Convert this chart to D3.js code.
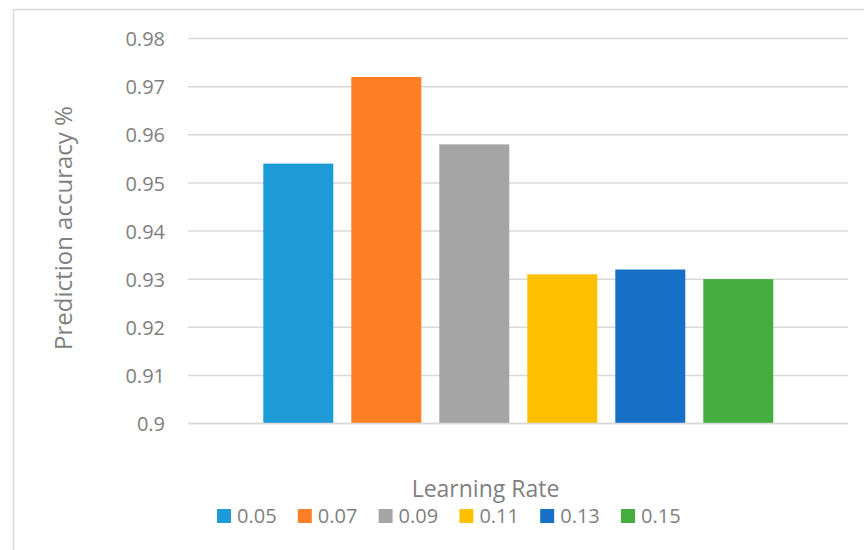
<!DOCTYPE html>
<html>
<head>
<meta charset="utf-8">
<script src="https://cdn.jsdelivr.net/npm/d3@7"></script>
<style>
  html, body { margin: 0; padding: 0; background: #fff; }
  svg { display: block; }
  text { font-family: "Open Sans", "Noto Sans", sans-serif; fill: #7f7f7f; }
</style>
</head>
<body>
<svg id="chart" width="864" height="550"></svg>
<script>
const seriesNames = ["0.05", "0.07", "0.09", "0.11", "0.13", "0.15"];
const seriesValues = [0.954, 0.972, 0.958, 0.931, 0.932, 0.930];
const seriesColors = ["#1e9bd7", "#ff7f27", "#a5a5a5", "#ffc000", "#1770c6", "#43ad3d"];
const yTicks = [0.9, 0.91, 0.92, 0.93, 0.94, 0.95, 0.96, 0.97, 0.98];
const yTitle = "Prediction accuracy %";
const xTitle = "Learning Rate";

const svg = d3.select("#chart");

// outer chart border (only top and left visible in frame)
svg.append("rect")
  .attr("x", 13.5).attr("y", 9.5)
  .attr("width", 900).attr("height", 600)
  .attr("fill", "none").attr("stroke", "#d9d9d9").attr("stroke-width", 1.5);

const plot = { left: 188, right: 848, top: 38.5, bottom: 423.5 };

const y = d3.scaleLinear().domain([0.9, 0.98]).range([plot.bottom, plot.top]);
const x = d3.scaleBand().domain(seriesNames).range([254.3, 782.3]).paddingInner(0.2045).paddingOuter(0.1023);

// gridlines
svg.append("g")
  .selectAll("line")
  .data(yTicks)
  .join("line")
  .attr("x1", plot.left).attr("x2", plot.right)
  .attr("y1", d => y(d)).attr("y2", d => y(d))
  .attr("stroke", "#d9d9d9").attr("stroke-width", 1.5);

// y axis labels
const yAxis = d3.axisLeft(y).tickValues(yTicks).tickSize(0).tickPadding(0)
  .tickFormat(d => d3.format("")(+d.toFixed(2)));
const gy = svg.append("g").attr("transform", "translate(165,0)").call(yAxis);
gy.select(".domain").remove();
gy.selectAll("text")
  .attr("font-family", '"Open Sans", sans-serif')
  .attr("font-size", 20)
  .attr("fill", "#7f7f7f")
  .attr("dy", "0.36em");

// bars
svg.append("g")
  .selectAll("rect")
  .data(seriesNames.map((n, i) => ({ name: n, value: seriesValues[i], color: seriesColors[i] })))
  .join("rect")
  .attr("x", d => x(d.name))
  .attr("width", x.bandwidth())
  .attr("y", d => y(d.value))
  .attr("height", d => y(0.9) - y(d.value))
  .attr("fill", d => d.color);

// baseline
svg.append("line")
  .attr("x1", plot.left).attr("x2", plot.right)
  .attr("y1", y(0.9)).attr("y2", y(0.9))
  .attr("stroke", "#d9d9d9").attr("stroke-width", 1.5);

// y title
svg.append("text")
  .attr("transform", "translate(72,228) rotate(-90)")
  .attr("text-anchor", "middle")
  .attr("font-size", 24)
  .text(yTitle);

// x title
svg.append("text")
  .attr("x", 485.5).attr("y", 497)
  .attr("text-anchor", "middle")
  .attr("font-size", 23)
  .text(xTitle);

// legend
const legend = svg.append("g");
const items = legend.selectAll("g")
  .data(seriesNames.map((n, i) => ({ name: n, color: seriesColors[i] })))
  .join("g")
  .attr("transform", (d, i) => `translate(${217 + i * 80.8},509)`);
items.append("rect").attr("width", 14).attr("height", 14).attr("fill", d => d.color);
items.append("text").attr("x", 20).attr("y", 14).attr("font-size", 20).text(d => d.name);
</script>
</body>
</html>
